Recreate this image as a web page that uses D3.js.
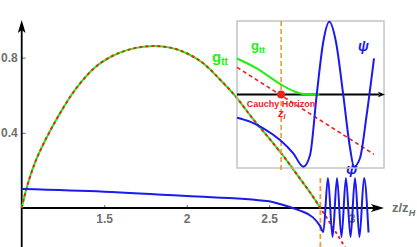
<!DOCTYPE html>
<html>
<head>
<meta charset="utf-8">
<script src="https://cdn.jsdelivr.net/npm/d3@7"></script>
<style>
  body { margin: 0; background: #fff; }
  text { font-family: "Liberation Sans", Arial, sans-serif; }
</style>
</head>
<body>
<svg width="417" height="247"></svg>
<script>
// tick labels
var zTicks = [1.5, 2, 2.5, 3];
var yTicks = [0.4, 0.8];

// Cauchy horizon position
var zI = 2.81;

// g_tt (green solid, red dashed on top)
var gttZ = [1.0, 1.02, 1.05, 1.08, 1.12, 1.16, 1.2, 1.25, 1.3, 1.37, 1.44, 1.52, 1.6, 1.7, 1.8, 1.9, 2.0, 2.1, 2.2, 2.3, 2.4, 2.5, 2.6, 2.7, 2.75, 2.81];
var gttV = [0, 0.075, 0.165, 0.24, 0.32, 0.39, 0.455, 0.53, 0.6, 0.68, 0.745, 0.795, 0.828, 0.853, 0.862, 0.853, 0.823, 0.77, 0.685, 0.59, 0.475, 0.37, 0.26, 0.14, 0.08, 0];
// red dashed continues past z_I
var redExtZ = [2.88, 2.96];
var redExtV = [-0.095, -0.21];

// psi (blue)
var psiZ = [1.0, 1.5, 2.0, 2.5, 2.565, 2.625, 2.687, 2.765, 2.808, 2.828, 2.856, 2.884, 2.911, 2.938, 2.965, 2.993, 3.02, 3.047, 3.075, 3.102];
var psiV = [0.101, 0.087, 0.064, 0.036, 0.021, 0.005, -0.014, -0.05, -0.095, -0.128, 0.16, -0.154, 0.16, -0.154, 0.16, -0.154, 0.16, -0.154, 0.16, -0.13];

// inset (zoom near z_I)
var inGttZ = [2.78, 2.7934, 2.8093, 2.8183, 2.824, 2.8297, 2.836];
var inGttV = [0.49, 0.356, 0.143, 0.048, 0.011, 0, 0];
var inRedZ = [2.78, 2.8732];
var inRedV = [0.37, -0.814];
var inPsiZ = [2.78, 2.7888, 2.7979, 2.8093, 2.8183, 2.8251, 2.8297, 2.8342, 2.8387, 2.8428, 2.8473, 2.8523, 2.8569, 2.8596, 2.8637, 2.8682, 2.8732];
var inPsiV = [-0.316, -0.37, -0.46, -0.619, -0.8, -0.982, -0.823, -0.007, 0.718, 0.99, 0.718, -0.007, -0.728, -0.982, -0.864, -0.279, 0.493];

var green = "#22ee11", red = "#ee2222", blue = "#1a1aee", orange = "#f09a30", grey = "#707070";

var svg = d3.select("svg");

var x = d3.scaleLinear().domain([1, 3.2]).range([21.7, 384.7]);
var y = d3.scaleLinear().domain([0, 0.8]).range([208, 57.6]);

var xi = d3.scaleLinear().domain([2.78, 2.88]).range([237, 384]);
var yi = d3.scaleLinear().domain([-1, 1]).range([168, 21]);

function pts(zs, vs) { return zs.map(function(z, i) { return [z, vs[i]]; }); }

var line = d3.line()
    .x(function(d) { return x(d[0]); })
    .y(function(d) { return y(d[1]); })
    .curve(d3.curveMonotoneX);

var lineIn = d3.line()
    .x(function(d) { return xi(d[0]); })
    .y(function(d) { return yi(d[1]); })
    .curve(d3.curveMonotoneX);

// axes ticks + labels
var xAxis = d3.axisBottom(x).tickValues(zTicks).tickFormat(d3.format("")).tickSizeInner(-3).tickSizeOuter(0).tickPadding(6);
var gx = svg.append("g").attr("transform", "translate(0,208)").call(xAxis);
gx.select(".domain").remove();

var yAxis = d3.axisLeft(y).tickValues(yTicks).tickSizeInner(-4).tickSizeOuter(0).tickPadding(4);
var gy = svg.append("g").attr("transform", "translate(21.7,0)").call(yAxis);
gy.select(".domain").remove();

svg.selectAll(".tick line").attr("stroke", grey).attr("stroke-width", 1);
svg.selectAll(".tick text")
    .attr("fill", grey)
    .style("font-size", "12px")
    .style("font-weight", "bold")
    .style("font-family", "Liberation Sans, Arial, sans-serif");

// main axis lines with arrows
svg.append("line").attr("x1", 21.7).attr("x2", 21.7).attr("y1", 30).attr("y2", 247)
    .attr("stroke", "#000").attr("stroke-width", 1.8);
svg.append("path").attr("d", "M21.7,20 L17.8,33 L21.7,30 L25.6,33 Z").attr("fill", "#000");
svg.append("line").attr("x1", 21.7).attr("x2", 376).attr("y1", 208).attr("y2", 208)
    .attr("stroke", "#000").attr("stroke-width", 1.8);
svg.append("path").attr("d", "M384,208 L371,204 L374,208 L371,212 Z").attr("fill", "#000");

// x axis title
var xt = svg.append("text").attr("x", 392).attr("y", 212)
    .attr("fill", grey).style("font-size", "13px").style("font-weight", "bold");
xt.append("tspan").text("z/z");
xt.append("tspan").attr("dy", 4).style("font-size", "9px").style("font-style", "italic").text("H");

// main curves
svg.append("line").attr("x1", x(zI)).attr("x2", x(zI)).attr("y1", y(0.16)).attr("y2", 247)
    .attr("stroke", orange).attr("stroke-width", 1.8).attr("stroke-dasharray", "5,3");

svg.append("path").datum(pts(gttZ, gttV)).attr("d", line)
    .attr("fill", "none").attr("stroke", green).attr("stroke-width", 2);
svg.append("path").datum(pts(gttZ.concat(redExtZ), gttV.concat(redExtV))).attr("d", line)
    .attr("fill", "none").attr("stroke", red).attr("stroke-width", 2).attr("stroke-dasharray", "3,3");

svg.append("path").datum(pts(psiZ, psiV)).attr("d", line)
    .attr("fill", "none").attr("stroke", blue).attr("stroke-width", 2);

// main labels
var gl = svg.append("text").attr("x", 212).attr("y", 62).attr("fill", green)
    .style("font-size", "15px").style("font-weight", "bold");
gl.append("tspan").text("g");
gl.append("tspan").attr("dy", 3).style("font-size", "10px").text("tt");

svg.append("text").attr("x", 346).attr("y", 174).attr("fill", blue)
    .style("font-size", "15px").style("font-weight", "bold").style("font-style", "italic")
    .text("\u03c8");

// inset
svg.append("rect").attr("x", 237).attr("y", 21).attr("width", 147).attr("height", 147)
    .attr("fill", "none").attr("stroke", "#c4c4c4").attr("stroke-width", 1.5);

svg.append("line").attr("x1", xi(zI)).attr("x2", xi(zI)).attr("y1", 21).attr("y2", 170)
    .attr("stroke", orange).attr("stroke-width", 1.6).attr("stroke-dasharray", "5,3");

svg.append("line").attr("x1", 237).attr("x2", 379).attr("y1", yi(0)).attr("y2", yi(0))
    .attr("stroke", "#000").attr("stroke-width", 2);
svg.append("path").attr("d", "M385," + yi(0) + " L378," + (yi(0) - 2.8) + " L379.5," + yi(0) + " L378," + (yi(0) + 2.8) + " Z")
    .attr("fill", "#000");

svg.append("path").datum(pts(inGttZ, inGttV)).attr("d", lineIn)
    .attr("fill", "none").attr("stroke", green).attr("stroke-width", 2);
svg.append("path").datum(pts(inRedZ, inRedV)).attr("d", lineIn)
    .attr("fill", "none").attr("stroke", red).attr("stroke-width", 1.6).attr("stroke-dasharray", "4,3");
svg.append("path").datum(pts(inPsiZ, inPsiV)).attr("d", lineIn)
    .attr("fill", "none").attr("stroke", blue).attr("stroke-width", 2);

svg.append("circle").attr("cx", xi(zI)).attr("cy", yi(0)).attr("r", 4).attr("fill", red);

svg.append("text").attr("x", xi(zI)).attr("y", 106.5).attr("text-anchor", "middle").attr("fill", red)
    .style("font-size", "9px").style("font-weight", "bold").text("Cauchy Horizon");
var zl = svg.append("text").attr("x", 278).attr("y", 117).attr("fill", red)
    .style("font-size", "11px").style("font-weight", "bold").style("font-style", "italic");
zl.append("tspan").text("z");
zl.append("tspan").attr("dy", 2).style("font-size", "7px").text("I");

var gl2 = svg.append("text").attr("x", 251).attr("y", 50).attr("fill", green)
    .style("font-size", "13px").style("font-weight", "bold");
gl2.append("tspan").text("g");
gl2.append("tspan").attr("dy", 3).style("font-size", "9px").text("tt");

svg.append("text").attr("x", 358).attr("y", 51).attr("fill", blue)
    .style("font-size", "14px").style("font-weight", "bold").style("font-style", "italic")
    .text("\u03c8");
</script>
</body>
</html>
